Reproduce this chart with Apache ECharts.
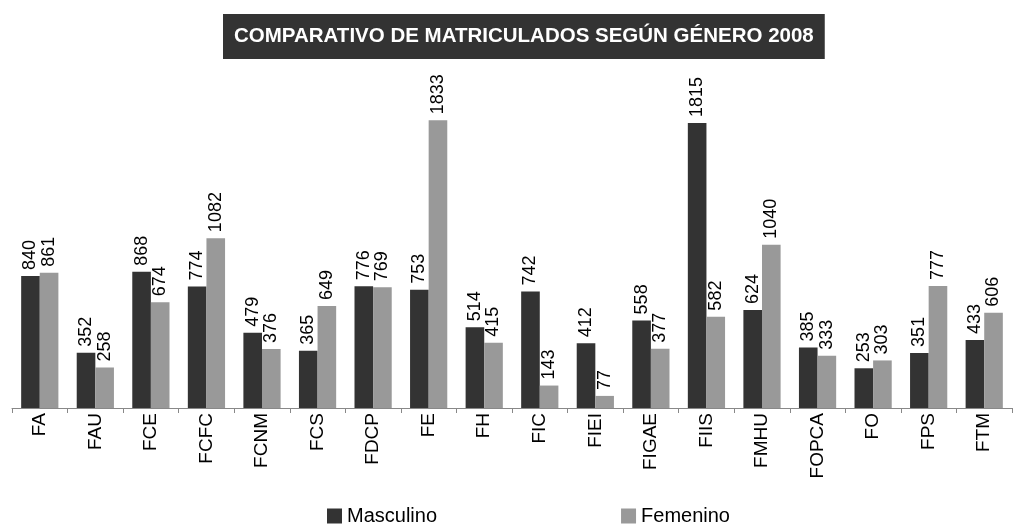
<!DOCTYPE html>
<html>
<head>
<meta charset="utf-8">
<script src="https://cdn.jsdelivr.net/npm/echarts@6/dist/echarts.min.js"></script>
<style>
    body{ margin: 0; background: #fff; }
    #chart{ width: 1021px; height: 524px; }
</style>
</head>
<body>
<div id="chart"></div>
<script>
    var categories = ['FA','FAU','FCE','FCFC','FCNM','FCS','FDCP','FE','FH','FIC','FIEI','FIGAE','FIIS','FMHU','FOPCA','FO','FPS','FTM'];
    var masculino = [840, 352, 868, 774, 479, 365, 776, 753, 514, 742, 412, 558, 1815, 624, 385, 253, 351, 433];
    var femenino  = [861, 258, 674, 1082, 376, 649, 769, 1833, 415, 143, 77, 377, 582, 1040, 333, 303, 777, 606];

    var myChart = echarts.init(document.getElementById('chart'));
    var barLabel = {
        show: true,
        position: 'top',
        rotate: 90,
        align: 'left',
        verticalAlign: 'middle',
        distance: 6,
        color: '#000',
        fontFamily: 'Liberation Sans',
        fontSize: 18
    };
    var option = {
        backgroundColor: '#fff',
        animation: false,
        color: ['#333333', '#999999'],
        title: {
            text: 'COMPARATIVO DE MATRICULADOS SEGÚN GÉNERO 2008',
            left: 223,
            top: 14,
            backgroundColor: '#333333',
            padding: [12, 11],
            textStyle: {
                color: '#fff',
                fontFamily: 'Liberation Sans',
                fontWeight: 'bold',
                fontSize: 20.5
            }
        },
        legend: {
            left: 322,
            top: 501,
            icon: 'rect',
            itemWidth: 15,
            itemHeight: 15,
            itemGap: 184,
            textStyle: {
                color: '#000',
                fontFamily: 'Liberation Sans',
                fontSize: 20
            },
            data: ['Masculino', 'Femenino']
        },
        grid: {
            left: 12,
            right: 9,
            top: 94,
            bottom: 116
        },
        xAxis: {
            type: 'category',
            data: categories,
            axisLine: { lineStyle: { color: '#888', width: 1 } },
            axisTick: { show: true, length: 5, lineStyle: { color: '#888' } },
            axisLabel: {
                rotate: 90,
                color: '#000',
                fontFamily: 'Liberation Sans',
                fontSize: 19,
                margin: 5
            }
        },
        yAxis: {
            type: 'value',
            min: 0,
            max: 2000,
            show: false
        },
        series: [
            {
                name: 'Masculino',
                type: 'bar',
                data: masculino,
                barGap: '0%',
                barCategoryGap: '33%',
                label: barLabel
            },
            {
                name: 'Femenino',
                type: 'bar',
                data: femenino,
                label: barLabel
            }
        ]
    };
    myChart.setOption(option);
</script>
</body>
</html>
